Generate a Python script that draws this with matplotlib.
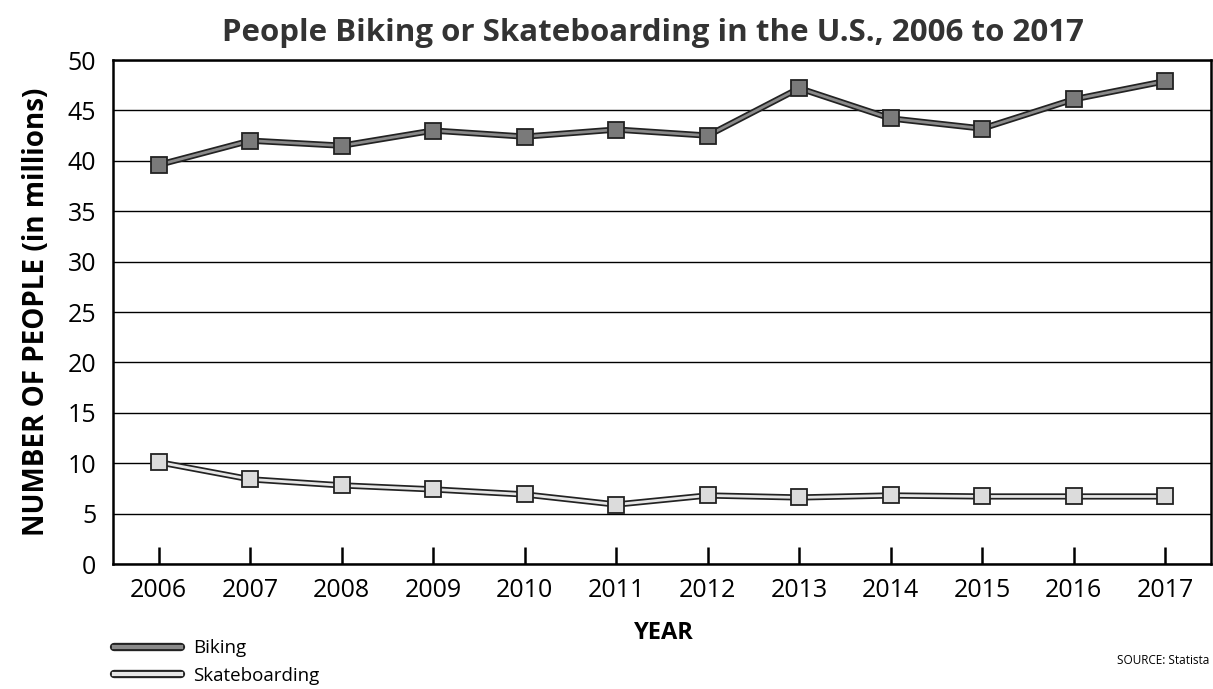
import matplotlib.pyplot as plt
from matplotlib.lines import Line2D

years = [2006, 2007, 2008, 2009, 2010, 2011, 2012, 2013, 2014, 2015, 2016, 2017]
biking = [39.6, 42.0, 41.5, 43.0, 42.4, 43.1, 42.5, 47.2, 44.2, 43.2, 46.1, 47.9]
skating = [10.1, 8.4, 7.8, 7.4, 6.9, 5.9, 6.8, 6.6, 6.8, 6.7, 6.7, 6.7]
y_ticks = [0, 5, 10, 15, 20, 25, 30, 35, 40, 45, 50]

plt.rcParams['font.family'] = ['Open Sans', 'DejaVu Sans']

fig = plt.figure(figsize=(12.13, 6.89), dpi=100)
ax = fig.add_axes([113 / 1213, 1 - 564 / 689, 1098 / 1213, 504 / 689])

# double-line look: dark wide line under a lighter narrow one
for vals, fill, mfill in [(biking, '#8a8a8a', '#7a7a7a'), (skating, '#e6e6e6', '#dcdcdc')]:
    ax.plot(years, vals, color='#222222', lw=4.5, zorder=3, solid_capstyle='round')
    ax.plot(years, vals, color=fill, lw=2, zorder=4, solid_capstyle='round')
    ax.plot(years, vals, ls='none', marker='s', ms=11, mfc=mfill, mec='#222222', mew=1.3, zorder=5)

ax.set_xlim(2005.5, 2017.5)
ax.set_ylim(0, 50)
ax.set_yticks(y_ticks)
ax.set_xticks(years)
ax.yaxis.grid(True, color='black', lw=1)
ax.set_axisbelow(True)
ax.tick_params(axis='x', direction='in', length=12, width=1.8, labelsize=18, pad=10)
ax.tick_params(axis='y', length=0, labelsize=18, pad=12)
for s in ax.spines.values():
    s.set_linewidth(1.8)

fig.text(0.538, 0.94, 'People Biking or Skateboarding in the U.S., 2006 to 2017',
         ha='center', fontsize=22.5, fontweight='bold', color='#333333')
ax.set_ylabel('NUMBER OF PEOPLE (in millions)', fontsize=20, fontweight='bold', labelpad=12)
fig.text(0.547, 0.072, 'YEAR', ha='center', fontsize=17, fontweight='bold')
fig.text(0.997, 0.037, 'SOURCE: Statista', ha='right', fontsize=8.5)

handles = [
    (Line2D([], [], color='#222222', lw=6, solid_capstyle='round'), Line2D([], [], color='#8a8a8a', lw=3)),
    (Line2D([], [], color='#222222', lw=6, solid_capstyle='round'), Line2D([], [], color='#e6e6e6', lw=3)),
]
fig.legend(handles, ['Biking', 'Skateboarding'], loc='lower left', bbox_to_anchor=(0.08, -0.018),
           frameon=False, fontsize=13.5, handlelength=3.6, labelspacing=0.5, handletextpad=0.6)

fig.savefig('out.png', dpi=100)
